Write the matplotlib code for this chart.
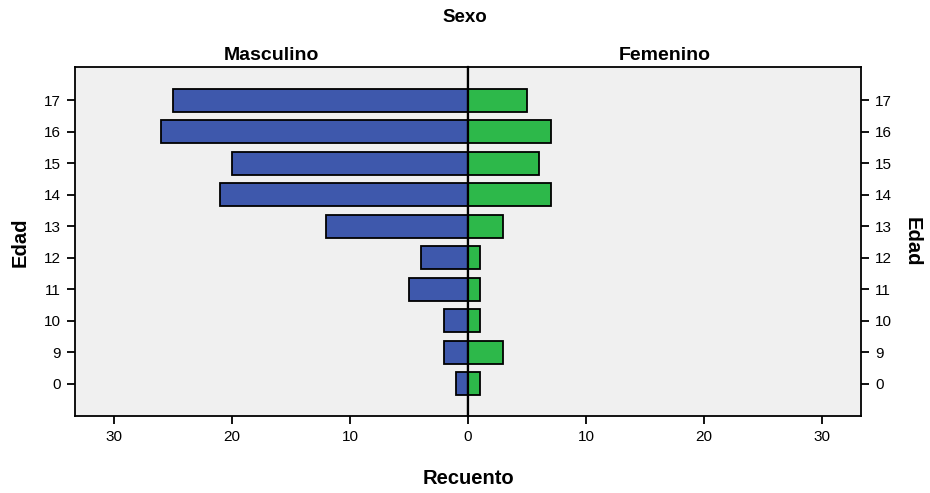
import numpy as np
import matplotlib.pyplot as plt

plt.rcParams['font.family'] = ['Liberation Sans', 'DejaVu Sans']

edades = ["0", "9", "10", "11", "12", "13", "14", "15", "16", "17"]
masculino = [1, 2, 2, 5, 4, 12, 21, 20, 26, 25]
femenino = [1, 3, 1, 1, 1, 3, 7, 6, 7, 5]
xticks = [0, 10, 20, 30]

azul = "#3e58ac"
verde = "#2db84a"
fondo = "#f0f0f0"

fig = plt.figure(figsize=(9.3, 4.93), dpi=100)
x0, xc, x1 = 75 / 930, 468 / 930, 861 / 930
y0, y1 = 1 - 416 / 493, 1 - 67 / 493
ax_m = fig.add_axes([x0, y0, xc - x0, y1 - y0])
ax_f = fig.add_axes([xc, y0, x1 - xc, y1 - y0])

pos = np.arange(len(edades))
xmax = 33.3
for ax, vals, color in [(ax_m, masculino, azul), (ax_f, femenino, verde)]:
    ax.set_facecolor(fondo)
    ax.barh(pos, vals, height=0.73, color=color, edgecolor="black", linewidth=1.3, zorder=2)
    ax.set_ylim(-1.02, 10.05)
    ax.set_xticks(xticks)
    ax.set_xticklabels([str(t) for t in xticks])
    ax.set_yticks(pos)
    ax.set_yticklabels(edades)
    ax.tick_params(axis="both", direction="out", length=6, width=1.3, labelsize=11, pad=4)
    for s in ax.spines.values():
        s.set_linewidth(1.3)

ax_m.set_xlim(xmax, 0)
ax_f.set_xlim(0, xmax)
ax_m.spines["right"].set_visible(False)
ax_f.spines["left"].set_visible(False)
ax_f.yaxis.tick_right()
ax_f.tick_params(axis="y", left=False, right=True)
ax_f.set_xticks([10, 20, 30])
ax_m.axvline(0, color="black", linewidth=1.6, zorder=3)
ax_f.axvline(0, color="black", linewidth=1.6, zorder=3, clip_on=False)

ax_m.set_title("Masculino", fontsize=14, fontweight="bold", pad=5)
ax_f.set_title("Femenino", fontsize=14, fontweight="bold", pad=5)
fig.text(0.5, 1 - 17 / 493, "Sexo", ha="center", va="center", fontsize=13.5, fontweight="bold")
fig.text(468 / 930, 1 - 479 / 493, "Recuento", ha="center", va="center", fontsize=14.5, fontweight="bold")
fig.text(20 / 930, 1 - 242 / 493, "Edad", ha="center", va="center", rotation=90, fontsize=14.5, fontweight="bold")
fig.text(912 / 930, 1 - 242 / 493, "Edad", ha="center", va="center", rotation=-90, fontsize=14.5, fontweight="bold")

fig.savefig("out.png", dpi=100, facecolor="white")
